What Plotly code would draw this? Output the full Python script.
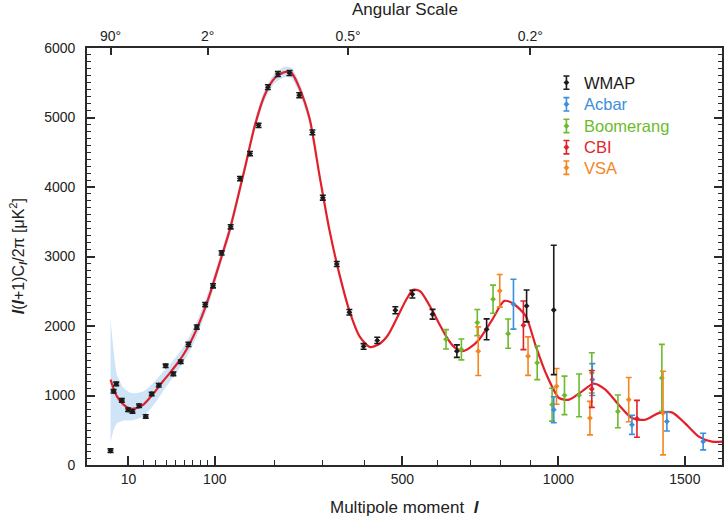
import numpy as np
import plotly.graph_objects as go

# ---------------- data (multipole l, l(l+1)C_l/2pi in uK^2) ----------------
model_l = [2, 3, 4.3, 7.3, 11, 15.3, 20, 25, 31, 37, 44, 51, 59, 67, 75, 84, 93, 102, 112, 123,
           147, 164, 182, 201, 220, 234, 250, 272, 294, 316, 339, 363, 388, 413, 435, 460, 485,
           510, 530, 550, 586, 606, 626, 650, 677, 700, 729, 772, 811, 844, 884, 919, 954, 1002,
           1039, 1087, 1131, 1176, 1228, 1281, 1334, 1390, 1445, 1500, 1560, 1618, 1665]
model_v = [1229, 1100, 988, 868, 810, 820, 868, 964, 1085, 1205, 1326, 1446, 1590, 1759, 1952,
           2193, 2458, 2747, 3060, 3398, 4266, 4873, 5321, 5567, 5654, 5640, 5430, 4980, 4150,
           3380, 2750, 2220, 1850, 1700, 1730, 1860, 2110, 2370, 2520, 2500, 2217, 2030, 1855,
           1700, 1638, 1690, 1807, 2096, 2361, 2313, 2144, 1711, 1326, 964, 940, 1060, 1171,
           1085, 868, 675, 651, 747, 757, 603, 409, 337, 337]

band_l = [2, 3, 4.3, 7.3, 11, 15.3, 20, 25, 31, 37, 44, 51, 59, 67, 75, 84, 93, 102, 112, 123,
          147, 164, 182, 201, 220, 234, 250, 272, 294, 316, 339, 363]
band_hi = [2096, 1650, 1300, 1110, 1040, 1035, 1060, 1130, 1230, 1340, 1450, 1565, 1705, 1870,
           2060, 2290, 2550, 2830, 3140, 3480, 4340, 4950, 5400, 5640, 5730, 5715, 5510, 5040,
           4200, 3420, 2780, 2245]
band_lo = [330, 500, 600, 640, 640, 660, 700, 790, 920, 1060, 1200, 1330, 1480, 1650, 1845,
           2095, 2365, 2665, 2980, 3320, 4190, 4800, 5245, 5495, 5580, 5565, 5350, 4920, 4100,
           3340, 2720, 2195]

wmap_l = [2, 3, 4, 6.5, 9.8, 12.4, 16.8, 21.8, 26.7, 33, 39.6, 47.6, 55.8, 64.9, 75.3, 86.5,
          97.5, 110, 124, 139, 156, 171, 188, 207, 230, 250, 278, 301, 333, 363, 398, 433, 481,
          528, 586, 659, 753, 887, 983]
wmap_v = [207, 1060, 1167, 930, 795, 771, 853, 699, 1022, 1147, 1427, 1311, 1485, 1735, 1985,
          2309, 2578, 3051, 3427, 4121, 4480, 4887, 5437, 5625, 5640, 5321, 4786, 3846, 2892,
          2198, 1706, 1793, 2227, 2458, 2169, 1638, 1952, 2289, 2231]
wmap_e = [25, 25, 25, 25, 25, 25, 25, 25, 25, 25, 25, 25, 25, 30, 30, 30, 30, 30, 30, 30, 30,
          30, 35, 35, 35, 35, 35, 35, 35, 40, 40, 45, 50, 55, 70, 90, 150, 230, 930]

acbar_l = [842, 983, 1126, 1281, 1424, 1579]
acbar_v = [2314, 795, 1229, 578, 626, 337]
acbar_e = [359, 188, 229, 137, 137, 120]

boom_l = [626, 673, 723, 774, 824, 924, 977, 1022, 1076, 1124, 1225, 1403]
boom_v = [1808, 1663, 2049, 2386, 1890, 1470, 868, 1002, 1002, 1326, 771, 1253]
boom_e = [140, 150, 188, 202, 210, 241, 236, 277, 308, 290, 236, 482]

cbi_l = [876, 1124, 1301]
cbi_v = [2010, 1094, 665]
cbi_e = [350, 265, 265]

vsa_l = [726, 796, 892, 993, 1117, 1268, 1408]
vsa_v = [1638, 2506, 1566, 1132, 675, 940, 747]
vsa_e = [350, 234, 277, 257, 241, 318, 602]

x_major = [10, 100, 500, 1000, 1500]
x_minor = [20, 30, 40, 50, 60, 70, 80, 90, 200, 300, 400, 600, 700, 800, 900]
top_l = [2, 90, 360, 900]
top_text = ["90°", "2°", "0.5°", "0.2°"]

legend_names = ["WMAP", "Acbar", "Boomerang", "CBI", "VSA"]

# ---------------- styling ----------------
COL = {"WMAP": "#1b1b1b", "Acbar": "#3d8fdb", "Boomerang": "#6dbb2c",
       "CBI": "#e41f2b", "VSA": "#f3861e"}
FONT = "Liberation Sans, Arial, Helvetica, sans-serif"
P = 0.6  # power-law scale used by the original x axis


def tx(vals):
    return np.asarray(vals, dtype=float) ** P


fig = go.Figure()

# cosmic-variance band
bl = tx(band_l)
fig.add_trace(go.Scatter(
    x=np.concatenate([bl, bl[::-1]]),
    y=np.concatenate([np.asarray(band_hi), np.asarray(band_lo)[::-1]]),
    mode="lines", fill="toself", fillcolor="#cfe4f6",
    line=dict(width=0, shape="spline", smoothing=0.6),
    hoverinfo="skip", showlegend=False))

# best-fit model
fig.add_trace(go.Scatter(
    x=tx(model_l), y=model_v, mode="lines",
    line=dict(color="#e3202a", width=2.2, shape="spline", smoothing=0.7),
    hoverinfo="skip", showlegend=False))

series = [("Boomerang", boom_l, boom_v, boom_e),
          ("VSA", vsa_l, vsa_v, vsa_e),
          ("Acbar", acbar_l, acbar_v, acbar_e),
          ("CBI", cbi_l, cbi_v, cbi_e),
          ("WMAP", wmap_l, wmap_v, wmap_e)]
for name, l, v, e in series:
    fig.add_trace(go.Scatter(
        x=tx(l), y=v, mode="markers", name=name,
        marker=dict(size=4.5, color=COL[name], symbol="diamond"),
        error_y=dict(type="data", array=e, color=COL[name], thickness=1.6, width=3),
        showlegend=False))

# invisible trace to activate top axis
fig.add_trace(go.Scatter(x=tx(top_l), y=[0] * len(top_l), xaxis="x2", mode="markers",
                         marker=dict(opacity=0), hoverinfo="skip", showlegend=False))

# custom legend (error-bar glyphs + coloured labels) on an overlay axis in plot fractions
leg_y = [0.917, 0.865, 0.813, 0.762, 0.713]
for name, yy in zip(legend_names, leg_y):
    fig.add_trace(go.Scatter(
        x=[0.755], y=[yy], xaxis="x3", yaxis="y3", mode="markers",
        marker=dict(size=4.5, color=COL[name], symbol="diamond"),
        error_y=dict(type="data", array=[0.016], color=COL[name], thickness=1.6, width=3),
        hoverinfo="skip", showlegend=False))
    fig.add_annotation(x=0.779, y=yy, xref="paper", yref="paper", text=name,
                       showarrow=False, xanchor="left", yanchor="middle",
                       font=dict(family=FONT, size=16.5, color=COL[name]))

xr = [-1.72, 85.58]
axis_line = dict(showline=True, linecolor="#2a2a2a", linewidth=1.6)
fig.update_layout(
    width=724, height=521,
    margin=dict(l=87, r=0, t=48, b=56),
    paper_bgcolor="white", plot_bgcolor="white",
    font=dict(family=FONT, color="#222222", size=14),
    xaxis=dict(range=xr, tickmode="array", tickvals=tx(x_major),
               ticktext=[str(v) for v in x_major], ticks="inside", ticklen=9, tickwidth=1.6,
               tickcolor="#2a2a2a", showgrid=False, zeroline=False, mirror=False,
               tickfont=dict(size=14),
               minor=dict(tickmode="array", tickvals=tx(x_minor), ticks="inside",
                          ticklen=5, tickwidth=1.4, tickcolor="#2a2a2a", showgrid=False),
               **axis_line),
    xaxis2=dict(range=xr, overlaying="x", side="top", anchor="y", tickmode="array",
                tickvals=tx(top_l), ticktext=top_text, ticks="inside", ticklen=7,
                tickwidth=1.6, tickcolor="#2a2a2a", showgrid=False, zeroline=False,
                tickfont=dict(size=14), **axis_line),
    yaxis=dict(range=[0, 6000], tickmode="array", tickvals=list(range(0, 6001, 1000)),
               ticks="inside", ticklen=8, tickwidth=1.6, tickcolor="#2a2a2a",
               showgrid=False, zeroline=False, mirror="ticks", tickfont=dict(size=14),
               ticklabelstandoff=7,
               minor=dict(dtick=100, ticks="inside", ticklen=4, tickwidth=1.2,
                          tickcolor="#2a2a2a", showgrid=False),
               **axis_line),
    xaxis3=dict(range=[0, 1], overlaying="x", visible=False, anchor="y3"),
    yaxis3=dict(range=[0, 1], overlaying="y", visible=False, anchor="x3"),
    showlegend=False,
)

fig.add_annotation(x=0.5, y=1.092, xref="paper", yref="paper", text="Angular Scale",
                   showarrow=False, xanchor="center", yanchor="middle",
                   font=dict(family=FONT, size=17, color="#222222"))
fig.add_annotation(x=0.5, y=-0.103, xref="paper", yref="paper",
                   text="Multipole moment  <b><i>l</i></b>",
                   showarrow=False, xanchor="center", yanchor="middle",
                   font=dict(family=FONT, size=17, color="#222222"))
fig.add_annotation(x=-0.109, y=0.5, xref="paper", yref="paper",
                   text="<b><i>l</i></b>(<b><i>l</i></b>+1)C<sub><b><i>l</i></b></sub>/2π [μK<sup>2</sup>]",
                   textangle=-90, showarrow=False, xanchor="center", yanchor="middle",
                   font=dict(family=FONT, size=16, color="#222222"))

fig.write_html("out.html")
